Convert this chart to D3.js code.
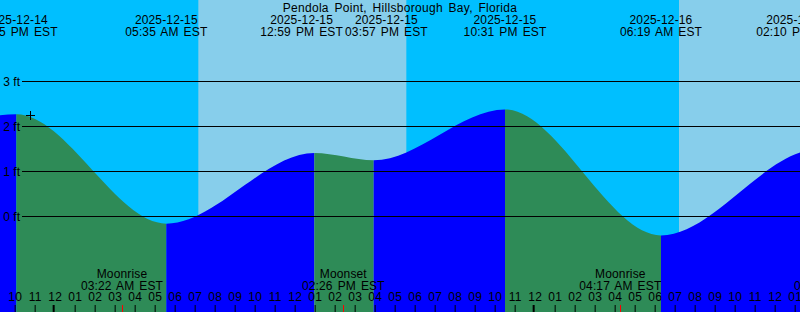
<!DOCTYPE html>
<html>
<head>
<meta charset="utf-8">
<script src="https://cdn.jsdelivr.net/npm/d3@7"></script>
<style>
body{margin:0;background:#fff;}
svg{display:block;}
text{font-family:"Liberation Sans",Arial,sans-serif;font-size:12px;fill:#000;letter-spacing:0.15px;word-spacing:1.5px;}
text.title{letter-spacing:0.3px;word-spacing:2px;}
text.lev{letter-spacing:0;word-spacing:0;}
</style>
</head>
<body>
<svg width="800" height="312"></svg>
<script>
// station + tide extremes (EST wall clock)
var title = "Pendola Point, Hillsborough Bay, Florida";
var tideTimes = ["2025-12-14 15:20", "2025-12-14 22:05", "2025-12-15 05:35", "2025-12-15 12:59",
                 "2025-12-15 15:57", "2025-12-15 22:31", "2025-12-16 06:19", "2025-12-16 14:10",
                 "2025-12-16 16:22"];
var tideHeights = [1.2, 2.27, -0.16, 1.41, 1.25, 2.38, -0.42, 1.49, 1.35];
// sun + moon
var sunrise = ["2025-12-14 07:10", "2025-12-15 07:11", "2025-12-16 07:13"];
var sunset = ["2025-12-14 17:34", "2025-12-15 17:35", "2025-12-16 17:35"];
var moonTimes = ["2025-12-15 03:22", "2025-12-15 14:26", "2025-12-16 04:17", "2025-12-16 15:02"];
var moonEvents = ["Moonrise", "Moonset", "Moonrise", "Moonset"];
// axis
var levelTicks = [0, 1, 2, 3];
var nowTime = "2025-12-14 22:46", nowLevel = 2.25;

window.onload = function(){
	var width = 800, height = 312;
	var parse = d3.utcParse("%Y-%m-%d %H:%M");
	var fmtDate = d3.utcFormat("%Y-%m-%d"), fmtTime = d3.utcFormat("%I:%M %p EST");
	var svg = d3.select("svg");

	//scales: 20px per hour, midnight dec 15 at x=54.5
	var t0 = parse("2025-12-15 00:00");
	var x = d3.scaleUtc()
		.domain([d3.utcMinute.offset(t0, -54.5 * 3), d3.utcMinute.offset(t0, (800 - 54.5) * 3)])
		.range([0, width]);
	var y = d3.scaleLinear().domain([0, 3]).range([216.5, 81.5]);

	var tides = tideTimes.map(function(t, i){ return {t: parse(t), h: tideHeights[i]}; });

	//sky
	svg.append("rect").attr("width", width).attr("height", height).attr("fill", "#00bfff");
	svg.selectAll("rect.day")
		.data(sunrise.map(function(s, i){ return [parse(s), parse(sunset[i])]; }))
		.enter().append("rect")
		.attr("class", "day")
		.attr("x", function(d){ return x(d[0]); })
		.attr("width", function(d){ return x(d[1]) - x(d[0]); })
		.attr("height", height)
		.attr("fill", "#87ceeb");

	//water
	var area = d3.area()
		.x(function(d){ return x(d.t); })
		.y0(height)
		.y1(function(d){ return y(d.h); })
		.curve(d3.curveMonotoneX);
	svg.append("clipPath").attr("id", "water")
		.append("path").attr("d", area(tides));
	svg.append("g").attr("clip-path", "url(#water)")
		.selectAll("rect")
		.data(d3.pairs(tides))
		.enter().append("rect")
		.attr("x", function(d){ return x(d[0].t); })
		.attr("width", function(d){ return x(d[1].t) - x(d[0].t); })
		.attr("height", height)
		.attr("fill", function(d){ return d[1].h > d[0].h ? "#0000ff" : "#2e8b57"; });

	//level lines
	svg.selectAll("line.lev")
		.data(levelTicks)
		.enter().append("line")
		.attr("class", "lev")
		.attr("x1", 22).attr("x2", width)
		.attr("y1", function(d){ return y(d); })
		.attr("y2", function(d){ return y(d); })
		.attr("stroke", "#000");
	svg.selectAll("text.lev")
		.data(levelTicks)
		.enter().append("text")
		.attr("class", "lev")
		.attr("x", 20)
		.attr("y", function(d){ return y(d) + 4.5; })
		.attr("text-anchor", "end")
		.text(function(d){ return d + " ft"; });

	//now mark
	var nx = Math.round(x(parse(nowTime))) + 0.5, ny = Math.round(y(nowLevel)) + 0.5;
	svg.append("path")
		.attr("d", "M" + (nx - 4.5) + "," + ny + "H" + (nx + 4.5) + "M" + nx + "," + (ny - 4.5) + "V" + (ny + 4.5))
		.attr("stroke", "#000").attr("fill", "none");

	//title + tide labels
	svg.append("text").attr("class", "title").attr("x", width / 2).attr("y", 12)
		.attr("text-anchor", "middle").text(title);
	var labs = tides.map(function(d){ return {t: d.t, x: x(d.t)}; });
	var tl = svg.selectAll("g.tl")
		.data(labs)
		.enter().append("g").attr("class", "tl");
	tl.append("text").attr("class", "d").attr("y", 24).attr("text-anchor", "middle")
		.text(function(d){ return fmtDate(d.t); });
	tl.append("text").attr("class", "tm").attr("y", 36).attr("text-anchor", "middle")
		.text(function(d){ return fmtTime(d.t); });
	tl.each(function(d){ d.w = d3.select(this).select("text.tm").node().getComputedTextLength(); });
	// push overlapping labels apart
	for (var it = 0; it < 20; it++) {
		for (var i = 0; i < labs.length - 1; i++) {
			var a = labs[i], b = labs[i + 1];
			var need = (a.w + b.w) / 2 + 2, dx = b.x - a.x;
			if (dx < need) { a.x -= (need - dx) / 2; b.x += (need - dx) / 2; }
		}
	}
	tl.selectAll("text").attr("x", function(){ return d3.select(this.parentNode).datum().x; });

	//moon labels
	var moon = moonTimes.map(function(t, i){ return {t: parse(t), e: moonEvents[i]}; });
	var ml = svg.selectAll("g.moon")
		.data(moon)
		.enter().append("g").attr("class", "moon");
	ml.append("text").attr("x", function(d){ return x(d.t); }).attr("y", 278)
		.attr("text-anchor", "middle").text(function(d){ return d.e; });
	ml.append("text").attr("x", function(d){ return x(d.t); }).attr("y", 290)
		.attr("text-anchor", "middle").text(function(d){ return fmtTime(d.t); });

	//hour axis
	var ax = svg.append("g").attr("transform", "translate(0," + height + ")")
		.call(d3.axisTop(x)
			.ticks(d3.utcHour.every(1))
			.tickSize(7)
			.tickPadding(4)
			.tickFormat(d3.utcFormat("%I")));
	ax.select(".domain").remove();
	ax.selectAll("text").attr("font-size", null).attr("font-family", null).attr("fill", "#000");
	ax.selectAll(".tick line").attr("stroke", "#000")
		.filter(function(d){ return d.getUTCHours() === 0; })
		.attr("stroke-width", 2).attr("transform", "translate(-1.5,0)");
	ml.append("line")
		.attr("x1", function(d){ return Math.round(x(d.t)) + 0.5; })
		.attr("x2", function(d){ return Math.round(x(d.t)) + 0.5; })
		.attr("y1", height - 7).attr("y2", height)
		.attr("stroke", "#ff0000");
}
</script>
</body>
</html>
